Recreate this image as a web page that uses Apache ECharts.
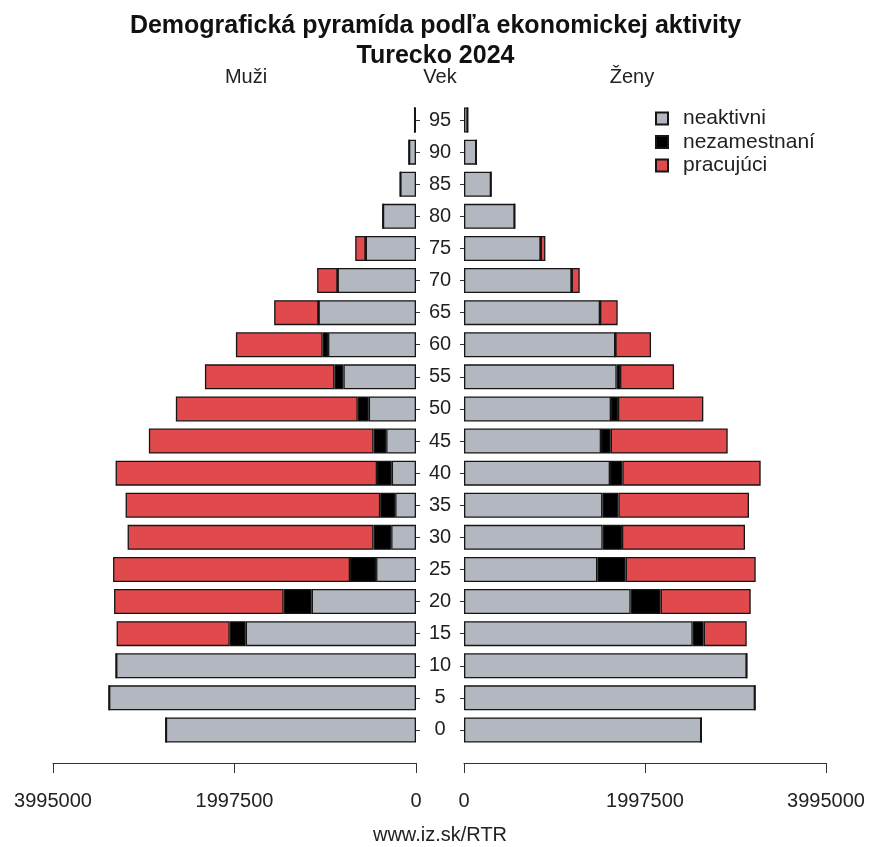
<!DOCTYPE html>
<html>
<head>
<meta charset="utf-8">
<script src="https://cdn.jsdelivr.net/npm/echarts@6/dist/echarts.min.js"></script>
<style>html,body{margin:0;padding:0;background:#fff}#c{width:871px;height:847px}</style>
</head>
<body>
<div id="c"></div>
<script>
const ages = ['0','5','10','15','20','25','30','35','40','45','50','55','60','65','70','75','80','85','90','95'];
const axisTicks = [0, 1997500, 3995000];

// Muži (men)
const menInactive   = [2753000,3378000,3300000,1874000,1148000,439000,273000,229000,267000,328000,520000,799000,968000,1073000,863000,554000,364000,173000,77000,15000];
const menUnemployed = [0,0,0,176000,309000,287000,195000,165000,162000,140000,121000,99000,59000,0,0,0,0,0,0,0];
const menEmployed   = [0,0,0,1245000,1866000,2608000,2706000,2802000,2877000,2472000,2002000,1425000,955000,488000,225000,115000,0,0,0,0];

// Ženy (women)
const womenInactive   = [2619000,3211000,3120000,2524000,1839000,1471000,1530000,1527000,1611000,1512000,1622000,1685000,1670000,1501000,1188000,846000,559000,298000,136000,40000];
const womenUnemployed = [0,0,0,121000,331000,313000,213000,177000,136000,107000,77000,37000,0,0,0,0,0,0,0,0];
const womenEmployed   = [0,0,0,475000,994000,1435000,1358000,1441000,1527000,1291000,942000,596000,394000,195000,89000,52000,0,0,0,0];

const colInactive = '#b3b8c0';
const colUnemployed = '#000000';
const colEmployed = '#e04a4c';
const border = '#151515';
const FONT = '"Liberation Sans", Arial, sans-serif';

const chart = echarts.init(document.getElementById('c'));

function mkSeries(name, data, color, xi, stack) {
  return {
    name: name, type: 'bar', stack: stack, data: data,
    xAxisIndex: xi, yAxisIndex: xi,
    barCategoryGap: '22%',
    itemStyle: { color: color, borderColor: border, borderWidth: 1.3 },
    emphasis: { disabled: true },
    animation: false
  };
}

const xAxisCommon = {
  type: 'value', min: axisTicks[0], max: axisTicks[2], interval: axisTicks[1],
  offset: 17,
  splitLine: { show: false },
  axisLine: { show: true, lineStyle: { color: '#333', width: 1 } },
  axisTick: { show: true, length: 10, lineStyle: { color: '#333' } },
  axisLabel: { fontFamily: FONT, fontSize: 20, color: '#222', margin: 28,
               formatter: v => String(v) }
};

chart.setOption({
  animation: false,
  textStyle: { fontFamily: FONT },
  title: {
    text: 'Demografická pyramída podľa ekonomickej aktivity\nTurecko 2024',
    left: 'center', top: 6,
    textStyle: { fontFamily: FONT, fontSize: 25, fontWeight: 'bold', color: '#111', lineHeight: 30 }
  },
  legend: {
    data: ['neaktivni', 'nezamestnaní', 'pracujúci'],
    orient: 'vertical', left: 650, top: 103,
    itemWidth: 12, itemHeight: 12, itemGap: 2.5,
    icon: 'rect',
    textStyle: { fontFamily: FONT, fontSize: 21, color: '#222', padding: [0, 0, 0, 10] }
  },
  grid: [
    { left: 53, width: 363, top: 104, height: 642 },
    { left: 464, width: 362, top: 104, height: 642 }
  ],
  xAxis: [
    Object.assign({}, xAxisCommon, { gridIndex: 0, inverse: true }),
    Object.assign({}, xAxisCommon, { gridIndex: 1 })
  ],
  yAxis: [
    { type: 'category', gridIndex: 0, data: ages, position: 'right', offset: 5,
      axisLine: { show: false },
      axisTick: { show: true, length: 4, alignWithLabel: true, lineStyle: { color: '#333' } },
      axisLabel: { fontFamily: FONT, fontSize: 20, color: '#222', margin: 19, align: 'center' } },
    { type: 'category', gridIndex: 1, data: ages, position: 'left', offset: 2,
      axisLine: { show: false },
      axisTick: { show: true, length: 4, alignWithLabel: true, lineStyle: { color: '#333' } },
      axisLabel: { show: false } }
  ],
  graphic: [
    { type: 'text', x: 246, y: 77, style: { text: 'Muži', font: '20px ' + FONT, fill: '#222', align: 'center', verticalAlign: 'middle' } },
    { type: 'text', x: 440, y: 77, style: { text: 'Vek', font: '20px ' + FONT, fill: '#222', align: 'center', verticalAlign: 'middle' } },
    { type: 'text', x: 632, y: 77, style: { text: 'Ženy', font: '20px ' + FONT, fill: '#222', align: 'center', verticalAlign: 'middle' } },
    { type: 'text', x: 440, y: 835, style: { text: 'www.iz.sk/RTR', font: '20px ' + FONT, fill: '#222', align: 'center', verticalAlign: 'middle' } }
  ],
  series: [
    mkSeries('neaktivni', menInactive, colInactive, 0, 'm'),
    mkSeries('nezamestnaní', menUnemployed, colUnemployed, 0, 'm'),
    mkSeries('pracujúci', menEmployed, colEmployed, 0, 'm'),
    mkSeries('neaktivni', womenInactive, colInactive, 1, 'w'),
    mkSeries('nezamestnaní', womenUnemployed, colUnemployed, 1, 'w'),
    mkSeries('pracujúci', womenEmployed, colEmployed, 1, 'w')
  ]
});
</script>
</body>
</html>
